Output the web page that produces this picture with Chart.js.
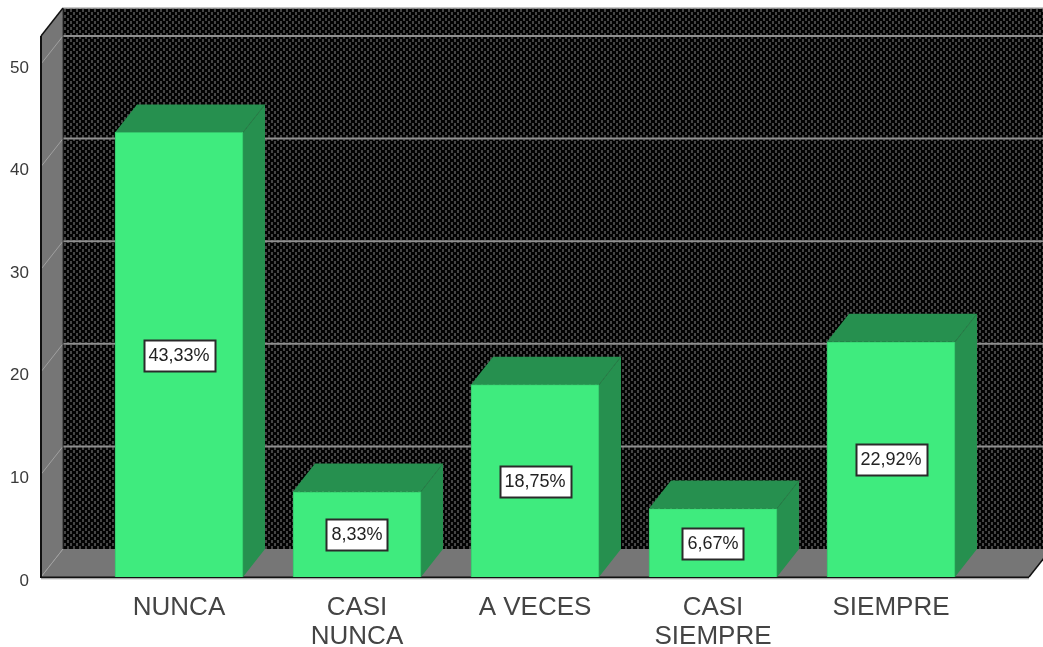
<!DOCTYPE html>
<html><head><meta charset="utf-8">
<style>html,body{margin:0;padding:0;background:#fff}canvas{display:block}</style>
<script src="https://cdn.jsdelivr.net/npm/chart.js@4"></script>
</head><body>
<canvas id="c" width="1043" height="647"></canvas>
<script>
const categories = [["NUNCA"],["CASI","NUNCA"],["A VECES"],["CASI","SIEMPRE"],["SIEMPRE"]];
const values = [43.33, 8.33, 18.75, 6.67, 22.92];
const valueLabels = ["43,33%","8,33%","18,75%","6,67%","22,92%"];
const gridValues = [0,10,20,30,40,50];
const DX = 22, DY = -28;
const FACE = '#3FEB7E', SIDE = '#26904F', WALL = '#767676', LINE = '#909090';

function dotPattern(ctx){
  const t = document.createElement('canvas'); t.width = 6; t.height = 6;
  const g = t.getContext('2d');
  g.fillStyle = '#030303'; g.fillRect(0,0,6,6);
  g.fillStyle = '#454545';
  g.fillRect(1,0,2,3); g.fillRect(4,3,2,3);
  return ctx.createPattern(t,'repeat');
}
function poly(ctx, pts, fill){
  ctx.beginPath();
  pts.forEach((p,i)=> i ? ctx.lineTo(p[0],p[1]) : ctx.moveTo(p[0],p[1]));
  ctx.closePath();
  ctx.fillStyle = fill; ctx.fill();
}
function seg(ctx,x1,y1,x2,y2,color,w){
  ctx.beginPath(); ctx.moveTo(x1,y1); ctx.lineTo(x2,y2);
  ctx.strokeStyle = color; ctx.lineWidth = w; ctx.stroke();
}
const box3d = {
  id:'box3d',
  beforeDatasetsDraw(chart){
    const {ctx, chartArea:a, scales:{y}} = chart;
    const L=a.left, R=a.right, T=a.top, B=a.bottom;
    ctx.save();
    ctx.fillStyle = dotPattern(ctx);
    ctx.fillRect(L+DX, T+DY, R-L, B-T);
    poly(ctx, [[L,T],[L+DX,T+DY],[L+DX,B+DY],[L,B]], WALL);
    poly(ctx, [[L,B],[L+DX,B+DY],[R+DX,B+DY],[R,B]], WALL);
    gridValues.forEach(v=>{
      const py = y.getPixelForValue(v);
      if(v>0) seg(ctx, L+DX, py+DY, R+DX, py+DY, LINE, 2);
      seg(ctx, L, py, L+DX, py+DY, '#A0A0A0', 1);
    });
    seg(ctx, L+DX, T+DY, R+DX, T+DY, '#B5B5B5', 1.5);
    seg(ctx, L+DX, T+DY, L+DX, B+DY, '#303030', 1);
    seg(ctx, L, T, L, B+1, '#111', 2);
    seg(ctx, L, T, L+DX, T+DY, '#111', 1.5);
    seg(ctx, L, B+0.5, R, B+0.5, '#111', 2);
    seg(ctx, L, B+2, R, B+2, '#C8C8C8', 1);
    seg(ctx, R, B, R+DX, B+DY, '#111', 1.5);
    chart.getDatasetMeta(0).data.forEach(el=>{
      const p = el.getProps(['x','y','base','width'], true);
      const l = p.x-p.width/2, r = p.x+p.width/2;
      poly(ctx, [[l,p.y],[l+DX,p.y+DY],[r+DX,p.y+DY],[r,p.y]], SIDE);
      poly(ctx, [[r,p.y],[r+DX,p.y+DY],[r+DX,p.base+DY],[r,p.base]], SIDE);
      seg(ctx, r, p.y, r+DX, p.y+DY, '#2A7F49', 1);
    });
    ctx.restore();
  },
  afterDatasetsDraw(chart){
    const {ctx} = chart;
    ctx.save();
    ctx.font = '18px "Liberation Sans"';
    ctx.textAlign = 'center'; ctx.textBaseline = 'middle';
    chart.getDatasetMeta(0).data.forEach((el,i)=>{
      const p = el.getProps(['x','y','base'], true);
      const cy = Math.round((p.y+p.base)/2);
      const w = Math.ceil(ctx.measureText(valueLabels[i]).width)+9, h = 31;
      const x = Math.round(p.x-w/2)+0.5, yy = Math.round(cy-h/2)+0.5;
      ctx.fillStyle = '#fff'; ctx.fillRect(x,yy,w,h);
      ctx.strokeStyle = '#2a2a2a'; ctx.lineWidth = 2; ctx.strokeRect(x,yy,w,h);
      ctx.fillStyle = '#222'; ctx.fillText(valueLabels[i], p.x, cy+1);
    });
    ctx.restore();
  }
};
new Chart(document.getElementById('c'), {
  type:'bar',
  data:{ datasets:[{
    data: values.map((v,i)=>({x:i,y:v})),
    backgroundColor: FACE, borderColor:'#35C56B', borderWidth:1, barThickness:128
  }]},
  options:{
    responsive:false, animation:false,
    layout:{padding:{top:36,right:14,left:0,bottom:0}},
    plugins:{legend:{display:false},tooltip:{enabled:false}},
    scales:{
      x:{ type:'linear', offset:false, min:(41-179)/178, max:(1029-179)/178,
        grid:{display:false}, border:{display:false},
        afterBuildTicks(s){ s.ticks = categories.map((c,i)=>({value:i})); },
        afterFit(s){ s.height = 70; },
        ticks:{ autoSkip:false, maxRotation:0, minRotation:0, padding:8, color:'#444',
          font:{family:'"Liberation Sans"',size:26,lineHeight:1.13},
          callback:v=>categories[v] }
      },
      y:{ min:0, max:52.73,
        grid:{display:false}, border:{display:false},
        afterFit(s){ s.width = 41; },
        ticks:{ stepSize:10, includeBounds:false, labelOffset:4, padding:4, color:'#3a3a3a',
          font:{family:'"Liberation Sans"',size:17} }
      }
    }
  },
  plugins:[box3d]
});
</script>
</body></html>
